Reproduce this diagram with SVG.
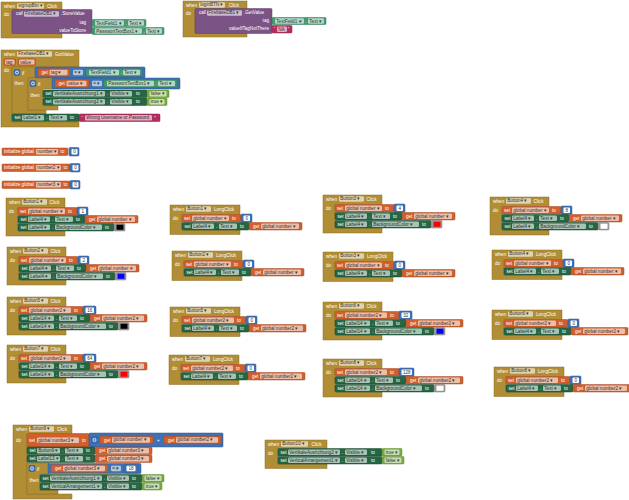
<svg xmlns="http://www.w3.org/2000/svg" width="629" height="500" viewBox="0 0 629 500">
<style>
text{font-family:"Liberation Sans",Arial,sans-serif;font-size:4.6px;fill:#fff}
.ft{fill:#333}
.ev{fill:#b18e35;stroke:#8a6d26;stroke-width:.5}
.or{fill:#d05f2d;stroke:#a54a22;stroke-width:.5;rx:1px}
.gr{fill:#266643;stroke:#1a4a2f;stroke-width:.5;rx:1px}
.cg{fill:#439970;stroke:#33784f;stroke-width:.5;rx:1px}
.bl{fill:#3f71b5;stroke:#2e5690;stroke-width:.5;rx:1px}
.lo{fill:#77ab41;stroke:#5d8a31;stroke-width:.5;rx:1px}
.tx{fill:#b32d5e;stroke:#8d2149;stroke-width:.5;rx:1px}
.pu{fill:#7c5385;stroke:#5f3f67;stroke-width:.5;rx:1px}
.f{fill:#fff;fill-opacity:.6;rx:1.2px}
.nf{fill:#fff;rx:1px}
.cb{fill:#9a9a9a;stroke:#777;stroke-width:.5;rx:1px}
.gear{fill:none;stroke:#fff;stroke-width:.8}
</style>
<rect width="629" height="500" fill="#fff"/>

<!-- signupBtn.Click -->
<g id="signupBtn-click" transform="translate(1,2)">
<path class="ev" d="M0,0H61V8H11V31H61V36H0Z"/>
<text x="3" y="5.6">when</text><rect class="f" x="16" y="1.2" width="27" height="5.6"/><text class="ft" x="17.3" y="5.4">signupBtn ▾</text><text x="46" y="5.6">Click</text>
<text x="3" y="14">do</text>
<rect class="pu" x="11" y="7.5" width="80" height="24"/>
<text x="15" y="13.2">call</text><rect class="f" x="23" y="9.2" width="35" height="5.6"/><text class="ft" x="24.3" y="13.4">FirebaseDB1 ▾</text><text x="60" y="13.2">.StoreValue</text>
<text x="85" y="21.6" text-anchor="end">tag</text>
<text x="85" y="29.6" text-anchor="end">valueToStore</text>
<g transform="translate(91,17.5)"><rect class="cg" width="54" height="7"/><rect class="f" x="3" y=".8" width="29" height="5.4"/><text class="ft" x="4.3" y="5">TextField1 ▾</text><text x="33.5" y="5.2">.</text><rect class="f" x="36" y=".8" width="16" height="5.4"/><text class="ft" x="37.3" y="5">Text ▾</text></g>
<g transform="translate(91,25.5)"><rect class="cg" width="72" height="7"/><rect class="f" x="3" y=".8" width="47" height="5.4"/><text class="ft" x="4.3" y="5">PasswortTextBox1 ▾</text><text x="51.5" y="5.2">.</text><rect class="f" x="54" y=".8" width="16" height="5.4"/><text class="ft" x="55.3" y="5">Text ▾</text></g>
</g>

<!-- loginBTN.Click -->
<g id="loginBTN-click" transform="translate(183,1)">
<path class="ev" d="M0,0H64V8H12V32H64V36H0Z"/>
<text x="3" y="5.6">when</text><rect class="f" x="16" y="1.2" width="26" height="5.6"/><text class="ft" x="17.3" y="5.4">loginBTN ▾</text><text x="46" y="5.6">Click</text>
<text x="3" y="14">do</text>
<rect class="pu" x="12" y="7.5" width="77" height="25"/>
<text x="16" y="13.2">call</text><rect class="f" x="24" y="9.2" width="35" height="5.6"/><text class="ft" x="25.3" y="13.4">FirebaseDB1 ▾</text><text x="61" y="13.2">.GetValue</text>
<text x="86" y="21" text-anchor="end">tag</text>
<text x="86" y="29.4" text-anchor="end">valueIfTagNotThere</text>
<g transform="translate(89,16.5)"><rect class="cg" width="54" height="7"/><rect class="f" x="3" y=".8" width="29" height="5.4"/><text class="ft" x="4.3" y="5">TextField1 ▾</text><text x="33.5" y="5.2">.</text><rect class="f" x="36" y=".8" width="16" height="5.4"/><text class="ft" x="37.3" y="5">Text ▾</text></g>
<g transform="translate(89,24.5)"><rect class="tx" width="20" height="7.5"/><text x="1.8" y="5.6">“</text><rect class="f" x="5" y="1" width="10" height="5.5"/><text class="ft" x="6.3" y="5.1">NA</text><text x="15.8" y="5.6">”</text></g>
</g>

<!-- FirebaseDB1.GotValue -->
<g id="firebase-gotvalue">
<path class="ev" d="M1,50H79V67H12V122H79V127H1Z"/>
<text x="4" y="55.6">when</text><rect class="f" x="17" y="51.2" width="35" height="5.6"/><text class="ft" x="18.3" y="55.4">FirebaseDB1 ▾</text><text x="55" y="55.6">GotValue</text>
<rect class="or" x="4" y="58.8" width="11.5" height="6.5"/><rect class="f" x="5" y="59.5" width="9.5" height="5.1"/><text class="ft" x="6" y="63.5">tag</text>
<rect class="or" x="18" y="58.8" width="17.5" height="6.5"/><rect class="f" x="19" y="59.5" width="15.5" height="5.1"/><text class="ft" x="20" y="63.5">value</text>
<text x="4" y="72">do</text>
<path class="ev" d="M12,67H36V78H28V110H46V114H12Z"/>
<rect class="bl" x="14" y="69.5" width="6" height="6"/><circle class="gear" cx="17" cy="72.5" r="1.5"/>
<text x="22" y="74.6">if</text>
<text x="14.5" y="85">then</text>
<rect class="bl" x="35" y="67" width="110" height="11"/>
<g transform="translate(38,68.8)"><rect class="or" width="32" height="7.5"/><text x="3.5" y="5.3">get</text><rect class="f" x="11.5" y="1" width="18" height="5.5"/><text class="ft" x="12.8" y="5.1">tag ▾</text></g>
<rect class="f" x="73" y="69.8" width="10" height="5.5"/><text class="ft" x="74.3" y="74">= ▾</text>
<g transform="translate(86,68.8)"><rect class="cg" width="56" height="7.5"/><rect class="f" x="3" y="1" width="30" height="5.5"/><text class="ft" x="4.3" y="5.1">TextField1 ▾</text><text x="34.5" y="5.3">.</text><rect class="f" x="37" y="1" width="17" height="5.5"/><text class="ft" x="38.3" y="5.1">Text ▾</text></g>
<path class="ev" d="M28,78H53V89H43V106H58V110H28Z"/>
<rect class="bl" x="30" y="80.5" width="6" height="6"/><circle class="gear" cx="33" cy="83.5" r="1.5"/>
<text x="38" y="85.6">if</text>
<text x="30.5" y="96.5">then</text>
<rect class="bl" x="52" y="78" width="128" height="11"/>
<g transform="translate(55,79.8)"><rect class="or" width="34" height="7.5"/><text x="3.5" y="5.3">get</text><rect class="f" x="11.5" y="1" width="20" height="5.5"/><text class="ft" x="12.8" y="5.1">value ▾</text></g>
<rect class="f" x="92" y="80.8" width="10" height="5.5"/><text class="ft" x="93.3" y="85">= ▾</text>
<g transform="translate(104,79.8)"><rect class="cg" width="73" height="7.5"/><rect class="f" x="3" y="1" width="47" height="5.5"/><text class="ft" x="4.3" y="5.1">PasswortTextBox1 ▾</text><text x="51.5" y="5.3">.</text><rect class="f" x="54" y="1" width="17" height="5.5"/><text class="ft" x="55.3" y="5.1">Text ▾</text></g>
<g transform="translate(43,90)"><rect class="gr" width="104" height="7.5"/><text x="2.5" y="5.3">set</text><rect class="f" x="10" y="1" width="52" height="5.5"/><text class="ft" x="11.3" y="5.1">VertikaleAusrichtung1 ▾</text><text x="64" y="5.3">.</text><rect class="f" x="67" y="1" width="22" height="5.5"/><text class="ft" x="68.3" y="5.1">Visible ▾</text><text x="93" y="5.3">to</text><rect class="lo" x="104" width="22" height="7.5"/><rect class="f" x="106.5" y="1" width="17" height="5.5"/><text class="ft" x="107.8" y="5.1">false ▾</text></g>
<g transform="translate(43,98)"><rect class="gr" width="104" height="7.5"/><text x="2.5" y="5.3">set</text><rect class="f" x="10" y="1" width="52" height="5.5"/><text class="ft" x="11.3" y="5.1">VertikaleAusrichtung2 ▾</text><text x="64" y="5.3">.</text><rect class="f" x="67" y="1" width="22" height="5.5"/><text class="ft" x="68.3" y="5.1">Visible ▾</text><text x="93" y="5.3">to</text><rect class="lo" x="104" width="20" height="7.5"/><rect class="f" x="106.5" y="1" width="15" height="5.5"/><text class="ft" x="107.8" y="5.1">true ▾</text></g>
<g transform="translate(12,114)"><rect class="gr" width="67" height="7.5"/><text x="2.5" y="5.3">set</text><rect class="f" x="10" y="1" width="22" height="5.5"/><text class="ft" x="11.3" y="5.1">Label1 ▾</text><text x="34" y="5.3">.</text><rect class="f" x="37" y="1" width="18" height="5.5"/><text class="ft" x="38.3" y="5.1">Text ▾</text><text x="58" y="5.3">to</text><rect class="tx" x="67" width="81" height="7.5"/><text x="69.3" y="5.6">“</text><rect class="f" x="73" y="1" width="67" height="5.5"/><text class="ft" x="74.3" y="5.1">Wrong Username or Password</text><text x="142.3" y="5.6">”</text></g>
</g>

<!-- globals -->
<g id="init-number" transform="translate(2,148)"><rect class="or" width="66" height="7.5"/><text x="2" y="5.3">initialize global</text><rect class="f" x="34" y="1" width="22" height="5.5"/><text class="ft" x="35.3" y="5.1">number ▾</text><text x="58.5" y="5.3">to</text><rect class="bl" x="67" y="-0.5" width="10" height="8.5"/><rect class="nf" x="69.5" y="1" width="6" height="5.5"/><text class="ft" x="72.5" y="5.1" text-anchor="middle">0</text></g>
<g id="init-number2" transform="translate(2,164)"><rect class="or" width="68" height="7.5"/><text x="2" y="5.3">initialize global</text><rect class="f" x="34" y="1" width="25" height="5.5"/><text class="ft" x="35.3" y="5.1">number2 ▾</text><text x="61.5" y="5.3">to</text><rect class="bl" x="68" y="-0.5" width="10" height="8.5"/><rect class="nf" x="70.5" y="1" width="6" height="5.5"/><text class="ft" x="73.5" y="5.1" text-anchor="middle">0</text></g>
<g id="init-number3" transform="translate(2,181)"><rect class="or" width="68" height="7.5"/><text x="2" y="5.3">initialize global</text><rect class="f" x="34" y="1" width="25" height="5.5"/><text class="ft" x="35.3" y="5.1">number3 ▾</text><text x="61.5" y="5.3">to</text><rect class="bl" x="68" y="-0.5" width="10" height="8.5"/><rect class="nf" x="70.5" y="1" width="6" height="5.5"/><text class="ft" x="73.5" y="5.1" text-anchor="middle">0</text></g>

<!-- Click blocks, number -->
<g id="button1-click" transform="translate(6,198)">
<path class="ev" d="M0,0H59V9.5H12V33H59V38H0Z"/>
<text x="3" y="5.6">when</text><rect class="f" x="16" y="1.2" width="25" height="5.6"/><text class="ft" x="17.3" y="5.4">Button1 ▾</text><text x="43.5" y="5.6">Click</text><text x="3" y="14.5">do</text>
<g transform="translate(12,9.5)"><rect class="or" width="59" height="7.5"/><text x="2" y="5.3">set</text><rect class="f" x="10" y="1" width="37" height="5.5"/><text class="ft" x="11.3" y="5.1">global number ▾</text><text x="50" y="5.3">to</text><rect class="bl" x="59" y="-0.5" width="11" height="8.5"/><rect class="nf" x="61.5" y="1" width="6.5" height="5.5"/><text class="ft" x="64.75" y="5.1" text-anchor="middle">1</text></g>
<g transform="translate(12,17.5)"><rect class="gr" width="67" height="7.5"/><text x="2.5" y="5.3">set</text><rect class="f" x="10" y="1" width="22" height="5.5"/><text class="ft" x="11.3" y="5.1">Label4 ▾</text><text x="34" y="5.3">.</text><rect class="f" x="37" y="1" width="18" height="5.5"/><text class="ft" x="38.3" y="5.1">Text ▾</text><text x="58" y="5.3">to</text><rect class="or" x="67" width="53" height="7.5"/><text x="71" y="5.3">get</text><rect class="f" x="79" y="1" width="38" height="5.5"/><text class="ft" x="80.3" y="5.1">global number ▾</text></g>
<g transform="translate(12,25.5)"><rect class="gr" width="96" height="7.5"/><text x="2.5" y="5.3">set</text><rect class="f" x="10" y="1" width="22" height="5.5"/><text class="ft" x="11.3" y="5.1">Label4 ▾</text><text x="34" y="5.3">.</text><rect class="f" x="37" y="1" width="47" height="5.5"/><text class="ft" x="38.3" y="5.1">BackgroundColor ▾</text><text x="87" y="5.3">to</text><rect class="cb" x="96" width="11" height="7.5"/><rect x="98.5" y="1.2" width="7" height="5.1" fill="#000"/></g>
</g>

<g id="button2-click" transform="translate(7,247)">
<path class="ev" d="M0,0H59V9.5H12V33H59V38H0Z"/>
<text x="3" y="5.6">when</text><rect class="f" x="16" y="1.2" width="25" height="5.6"/><text class="ft" x="17.3" y="5.4">Button2 ▾</text><text x="43.5" y="5.6">Click</text><text x="3" y="14.5">do</text>
<g transform="translate(12,9.5)"><rect class="or" width="59" height="7.5"/><text x="2" y="5.3">set</text><rect class="f" x="10" y="1" width="37" height="5.5"/><text class="ft" x="11.3" y="5.1">global number ▾</text><text x="50" y="5.3">to</text><rect class="bl" x="59" y="-0.5" width="11" height="8.5"/><rect class="nf" x="61.5" y="1" width="6.5" height="5.5"/><text class="ft" x="64.75" y="5.1" text-anchor="middle">2</text></g>
<g transform="translate(12,17.5)"><rect class="gr" width="67" height="7.5"/><text x="2.5" y="5.3">set</text><rect class="f" x="10" y="1" width="22" height="5.5"/><text class="ft" x="11.3" y="5.1">Label4 ▾</text><text x="34" y="5.3">.</text><rect class="f" x="37" y="1" width="18" height="5.5"/><text class="ft" x="38.3" y="5.1">Text ▾</text><text x="58" y="5.3">to</text><rect class="or" x="67" width="53" height="7.5"/><text x="71" y="5.3">get</text><rect class="f" x="79" y="1" width="38" height="5.5"/><text class="ft" x="80.3" y="5.1">global number ▾</text></g>
<g transform="translate(12,25.5)"><rect class="gr" width="96" height="7.5"/><text x="2.5" y="5.3">set</text><rect class="f" x="10" y="1" width="22" height="5.5"/><text class="ft" x="11.3" y="5.1">Label4 ▾</text><text x="34" y="5.3">.</text><rect class="f" x="37" y="1" width="47" height="5.5"/><text class="ft" x="38.3" y="5.1">BackgroundColor ▾</text><text x="87" y="5.3">to</text><rect class="cb" x="96" width="11" height="7.5"/><rect x="98.5" y="1.2" width="7" height="5.1" fill="#00f"/></g>
</g>

<g id="button3-click" transform="translate(323,195)">
<path class="ev" d="M0,0H59V9.5H12V33H59V38H0Z"/>
<text x="3" y="5.6">when</text><rect class="f" x="16" y="1.2" width="25" height="5.6"/><text class="ft" x="17.3" y="5.4">Button3 ▾</text><text x="43.5" y="5.6">Click</text><text x="3" y="14.5">do</text>
<g transform="translate(12,9.5)"><rect class="or" width="59" height="7.5"/><text x="2" y="5.3">set</text><rect class="f" x="10" y="1" width="37" height="5.5"/><text class="ft" x="11.3" y="5.1">global number ▾</text><text x="50" y="5.3">to</text><rect class="bl" x="59" y="-0.5" width="11" height="8.5"/><rect class="nf" x="61.5" y="1" width="6.5" height="5.5"/><text class="ft" x="64.75" y="5.1" text-anchor="middle">4</text></g>
<g transform="translate(12,17.5)"><rect class="gr" width="67" height="7.5"/><text x="2.5" y="5.3">set</text><rect class="f" x="10" y="1" width="22" height="5.5"/><text class="ft" x="11.3" y="5.1">Label4 ▾</text><text x="34" y="5.3">.</text><rect class="f" x="37" y="1" width="18" height="5.5"/><text class="ft" x="38.3" y="5.1">Text ▾</text><text x="58" y="5.3">to</text><rect class="or" x="67" width="53" height="7.5"/><text x="71" y="5.3">get</text><rect class="f" x="79" y="1" width="38" height="5.5"/><text class="ft" x="80.3" y="5.1">global number ▾</text></g>
<g transform="translate(12,25.5)"><rect class="gr" width="96" height="7.5"/><text x="2.5" y="5.3">set</text><rect class="f" x="10" y="1" width="22" height="5.5"/><text class="ft" x="11.3" y="5.1">Label4 ▾</text><text x="34" y="5.3">.</text><rect class="f" x="37" y="1" width="47" height="5.5"/><text class="ft" x="38.3" y="5.1">BackgroundColor ▾</text><text x="87" y="5.3">to</text><rect class="cb" x="96" width="11" height="7.5"/><rect x="98.5" y="1.2" width="7" height="5.1" fill="#f00"/></g>
</g>

<g id="button4-click" transform="translate(490,197)">
<path class="ev" d="M0,0H59V9.5H12V33H59V38H0Z"/>
<text x="3" y="5.6">when</text><rect class="f" x="16" y="1.2" width="25" height="5.6"/><text class="ft" x="17.3" y="5.4">Button4 ▾</text><text x="43.5" y="5.6">Click</text><text x="3" y="14.5">do</text>
<g transform="translate(12,9.5)"><rect class="or" width="59" height="7.5"/><text x="2" y="5.3">set</text><rect class="f" x="10" y="1" width="37" height="5.5"/><text class="ft" x="11.3" y="5.1">global number ▾</text><text x="50" y="5.3">to</text><rect class="bl" x="59" y="-0.5" width="11" height="8.5"/><rect class="nf" x="61.5" y="1" width="6.5" height="5.5"/><text class="ft" x="64.75" y="5.1" text-anchor="middle">8</text></g>
<g transform="translate(12,17.5)"><rect class="gr" width="67" height="7.5"/><text x="2.5" y="5.3">set</text><rect class="f" x="10" y="1" width="22" height="5.5"/><text class="ft" x="11.3" y="5.1">Label4 ▾</text><text x="34" y="5.3">.</text><rect class="f" x="37" y="1" width="18" height="5.5"/><text class="ft" x="38.3" y="5.1">Text ▾</text><text x="58" y="5.3">to</text><rect class="or" x="67" width="53" height="7.5"/><text x="71" y="5.3">get</text><rect class="f" x="79" y="1" width="38" height="5.5"/><text class="ft" x="80.3" y="5.1">global number ▾</text></g>
<g transform="translate(12,25.5)"><rect class="gr" width="96" height="7.5"/><text x="2.5" y="5.3">set</text><rect class="f" x="10" y="1" width="22" height="5.5"/><text class="ft" x="11.3" y="5.1">Label4 ▾</text><text x="34" y="5.3">.</text><rect class="f" x="37" y="1" width="47" height="5.5"/><text class="ft" x="38.3" y="5.1">BackgroundColor ▾</text><text x="87" y="5.3">to</text><rect class="cb" x="96" width="11" height="7.5"/><rect x="98.5" y="1.2" width="7" height="5.1" fill="#fff"/></g>
</g>

<!-- Click blocks, number2 -->
<g id="button5-click" transform="translate(7,297)">
<path class="ev" d="M0,0H59V9.5H12V33H59V38H0Z"/>
<text x="3" y="5.6">when</text><rect class="f" x="16" y="1.2" width="25" height="5.6"/><text class="ft" x="17.3" y="5.4">Button5 ▾</text><text x="43.5" y="5.6">Click</text><text x="3" y="14.5">do</text>
<g transform="translate(12,9.5)"><rect class="or" width="64" height="7.5"/><text x="2" y="5.3">set</text><rect class="f" x="10" y="1" width="42" height="5.5"/><text class="ft" x="11.3" y="5.1">global number2 ▾</text><text x="55" y="5.3">to</text><rect class="bl" x="64" y="-0.5" width="13" height="8.5"/><rect class="nf" x="66.5" y="1" width="8.5" height="5.5"/><text class="ft" x="70.75" y="5.1" text-anchor="middle">16</text></g>
<g transform="translate(12,17.5)"><rect class="gr" width="71" height="7.5"/><text x="2.5" y="5.3">set</text><rect class="f" x="10" y="1" width="25" height="5.5"/><text class="ft" x="11.3" y="5.1">Label14 ▾</text><text x="37" y="5.3">.</text><rect class="f" x="40" y="1" width="18" height="5.5"/><text class="ft" x="41.3" y="5.1">Text ▾</text><text x="61" y="5.3">to</text><rect class="or" x="71" width="57" height="7.5"/><text x="75" y="5.3">get</text><rect class="f" x="83" y="1" width="42" height="5.5"/><text class="ft" x="84.3" y="5.1">global number2 ▾</text></g>
<g transform="translate(12,25.5)"><rect class="gr" width="99" height="7.5"/><text x="2.5" y="5.3">set</text><rect class="f" x="10" y="1" width="25" height="5.5"/><text class="ft" x="11.3" y="5.1">Label14 ▾</text><text x="37" y="5.3">.</text><rect class="f" x="40" y="1" width="47" height="5.5"/><text class="ft" x="41.3" y="5.1">BackgroundColor ▾</text><text x="90" y="5.3">to</text><rect class="cb" x="99" width="11" height="7.5"/><rect x="101.5" y="1.2" width="7" height="5.1" fill="#000"/></g>
</g>

<g id="button7-click" transform="translate(7,345)">
<path class="ev" d="M0,0H59V9.5H12V33H59V38H0Z"/>
<text x="3" y="5.6">when</text><rect class="f" x="16" y="1.2" width="25" height="5.6"/><text class="ft" x="17.3" y="5.4">Button7 ▾</text><text x="43.5" y="5.6">Click</text><text x="3" y="14.5">do</text>
<g transform="translate(12,9.5)"><rect class="or" width="64" height="7.5"/><text x="2" y="5.3">set</text><rect class="f" x="10" y="1" width="42" height="5.5"/><text class="ft" x="11.3" y="5.1">global number2 ▾</text><text x="55" y="5.3">to</text><rect class="bl" x="64" y="-0.5" width="13" height="8.5"/><rect class="nf" x="66.5" y="1" width="8.5" height="5.5"/><text class="ft" x="70.75" y="5.1" text-anchor="middle">64</text></g>
<g transform="translate(12,17.5)"><rect class="gr" width="71" height="7.5"/><text x="2.5" y="5.3">set</text><rect class="f" x="10" y="1" width="25" height="5.5"/><text class="ft" x="11.3" y="5.1">Label14 ▾</text><text x="37" y="5.3">.</text><rect class="f" x="40" y="1" width="18" height="5.5"/><text class="ft" x="41.3" y="5.1">Text ▾</text><text x="61" y="5.3">to</text><rect class="or" x="71" width="57" height="7.5"/><text x="75" y="5.3">get</text><rect class="f" x="83" y="1" width="42" height="5.5"/><text class="ft" x="84.3" y="5.1">global number2 ▾</text></g>
<g transform="translate(12,25.5)"><rect class="gr" width="99" height="7.5"/><text x="2.5" y="5.3">set</text><rect class="f" x="10" y="1" width="25" height="5.5"/><text class="ft" x="11.3" y="5.1">Label14 ▾</text><text x="37" y="5.3">.</text><rect class="f" x="40" y="1" width="47" height="5.5"/><text class="ft" x="41.3" y="5.1">BackgroundColor ▾</text><text x="90" y="5.3">to</text><rect class="cb" x="99" width="11" height="7.5"/><rect x="101.5" y="1.2" width="7" height="5.1" fill="#f00"/></g>
</g>

<g id="button6-click" transform="translate(323,302)">
<path class="ev" d="M0,0H59V9.5H12V33H59V38H0Z"/>
<text x="3" y="5.6">when</text><rect class="f" x="16" y="1.2" width="25" height="5.6"/><text class="ft" x="17.3" y="5.4">Button6 ▾</text><text x="43.5" y="5.6">Click</text><text x="3" y="14.5">do</text>
<g transform="translate(12,9.5)"><rect class="or" width="64" height="7.5"/><text x="2" y="5.3">set</text><rect class="f" x="10" y="1" width="42" height="5.5"/><text class="ft" x="11.3" y="5.1">global number2 ▾</text><text x="55" y="5.3">to</text><rect class="bl" x="64" y="-0.5" width="13" height="8.5"/><rect class="nf" x="66.5" y="1" width="8.5" height="5.5"/><text class="ft" x="70.75" y="5.1" text-anchor="middle">32</text></g>
<g transform="translate(12,17.5)"><rect class="gr" width="71" height="7.5"/><text x="2.5" y="5.3">set</text><rect class="f" x="10" y="1" width="25" height="5.5"/><text class="ft" x="11.3" y="5.1">Label14 ▾</text><text x="37" y="5.3">.</text><rect class="f" x="40" y="1" width="18" height="5.5"/><text class="ft" x="41.3" y="5.1">Text ▾</text><text x="61" y="5.3">to</text><rect class="or" x="71" width="57" height="7.5"/><text x="75" y="5.3">get</text><rect class="f" x="83" y="1" width="42" height="5.5"/><text class="ft" x="84.3" y="5.1">global number2 ▾</text></g>
<g transform="translate(12,25.5)"><rect class="gr" width="99" height="7.5"/><text x="2.5" y="5.3">set</text><rect class="f" x="10" y="1" width="25" height="5.5"/><text class="ft" x="11.3" y="5.1">Label14 ▾</text><text x="37" y="5.3">.</text><rect class="f" x="40" y="1" width="47" height="5.5"/><text class="ft" x="41.3" y="5.1">BackgroundColor ▾</text><text x="90" y="5.3">to</text><rect class="cb" x="99" width="11" height="7.5"/><rect x="101.5" y="1.2" width="7" height="5.1" fill="#00f"/></g>
</g>

<g id="button8-click" transform="translate(323,359)">
<path class="ev" d="M0,0H59V9.5H12V33H59V38H0Z"/>
<text x="3" y="5.6">when</text><rect class="f" x="16" y="1.2" width="25" height="5.6"/><text class="ft" x="17.3" y="5.4">Button8 ▾</text><text x="43.5" y="5.6">Click</text><text x="3" y="14.5">do</text>
<g transform="translate(12,9.5)"><rect class="or" width="64" height="7.5"/><text x="2" y="5.3">set</text><rect class="f" x="10" y="1" width="42" height="5.5"/><text class="ft" x="11.3" y="5.1">global number2 ▾</text><text x="55" y="5.3">to</text><rect class="bl" x="64" y="-0.5" width="15" height="8.5"/><rect class="nf" x="66.5" y="1" width="10.5" height="5.5"/><text class="ft" x="71.75" y="5.1" text-anchor="middle">128</text></g>
<g transform="translate(12,17.5)"><rect class="gr" width="71" height="7.5"/><text x="2.5" y="5.3">set</text><rect class="f" x="10" y="1" width="25" height="5.5"/><text class="ft" x="11.3" y="5.1">Label14 ▾</text><text x="37" y="5.3">.</text><rect class="f" x="40" y="1" width="18" height="5.5"/><text class="ft" x="41.3" y="5.1">Text ▾</text><text x="61" y="5.3">to</text><rect class="or" x="71" width="57" height="7.5"/><text x="75" y="5.3">get</text><rect class="f" x="83" y="1" width="42" height="5.5"/><text class="ft" x="84.3" y="5.1">global number2 ▾</text></g>
<g transform="translate(12,25.5)"><rect class="gr" width="99" height="7.5"/><text x="2.5" y="5.3">set</text><rect class="f" x="10" y="1" width="25" height="5.5"/><text class="ft" x="11.3" y="5.1">Label14 ▾</text><text x="37" y="5.3">.</text><rect class="f" x="40" y="1" width="47" height="5.5"/><text class="ft" x="41.3" y="5.1">BackgroundColor ▾</text><text x="90" y="5.3">to</text><rect class="cb" x="99" width="11" height="7.5"/><rect x="101.5" y="1.2" width="7" height="5.1" fill="#fff"/></g>
</g>

<!-- LongClick blocks, number -->
<g id="button1-longclick" transform="translate(170,205)">
<path class="ev" d="M0,0H70V9.5H12V25H70V29.5H0Z"/>
<text x="3" y="5.6">when</text><rect class="f" x="16" y="1.2" width="25" height="5.6"/><text class="ft" x="17.3" y="5.4">Button1 ▾</text><text x="44" y="5.6">LongClick</text><text x="3" y="14.5">do</text>
<g transform="translate(12,9.5)"><rect class="or" width="59" height="7.5"/><text x="2" y="5.3">set</text><rect class="f" x="10" y="1" width="37" height="5.5"/><text class="ft" x="11.3" y="5.1">global number ▾</text><text x="50" y="5.3">to</text><rect class="bl" x="59" y="-0.5" width="11" height="8.5"/><rect class="nf" x="61.5" y="1" width="6.5" height="5.5"/><text class="ft" x="64.75" y="5.1" text-anchor="middle">0</text></g>
<g transform="translate(12,17.5)"><rect class="gr" width="67" height="7.5"/><text x="2.5" y="5.3">set</text><rect class="f" x="10" y="1" width="22" height="5.5"/><text class="ft" x="11.3" y="5.1">Label4 ▾</text><text x="34" y="5.3">.</text><rect class="f" x="37" y="1" width="18" height="5.5"/><text class="ft" x="38.3" y="5.1">Text ▾</text><text x="58" y="5.3">to</text><rect class="or" x="67" width="53" height="7.5"/><text x="71" y="5.3">get</text><rect class="f" x="79" y="1" width="38" height="5.5"/><text class="ft" x="80.3" y="5.1">global number ▾</text></g>
</g>

<g id="button2-longclick" transform="translate(172,251)">
<path class="ev" d="M0,0H70V9.5H12V25H70V29.5H0Z"/>
<text x="3" y="5.6">when</text><rect class="f" x="16" y="1.2" width="25" height="5.6"/><text class="ft" x="17.3" y="5.4">Button2 ▾</text><text x="44" y="5.6">LongClick</text><text x="3" y="14.5">do</text>
<g transform="translate(12,9.5)"><rect class="or" width="59" height="7.5"/><text x="2" y="5.3">set</text><rect class="f" x="10" y="1" width="37" height="5.5"/><text class="ft" x="11.3" y="5.1">global number ▾</text><text x="50" y="5.3">to</text><rect class="bl" x="59" y="-0.5" width="11" height="8.5"/><rect class="nf" x="61.5" y="1" width="6.5" height="5.5"/><text class="ft" x="64.75" y="5.1" text-anchor="middle">0</text></g>
<g transform="translate(12,17.5)"><rect class="gr" width="67" height="7.5"/><text x="2.5" y="5.3">set</text><rect class="f" x="10" y="1" width="22" height="5.5"/><text class="ft" x="11.3" y="5.1">Label4 ▾</text><text x="34" y="5.3">.</text><rect class="f" x="37" y="1" width="18" height="5.5"/><text class="ft" x="38.3" y="5.1">Text ▾</text><text x="58" y="5.3">to</text><rect class="or" x="67" width="53" height="7.5"/><text x="71" y="5.3">get</text><rect class="f" x="79" y="1" width="38" height="5.5"/><text class="ft" x="80.3" y="5.1">global number ▾</text></g>
</g>

<g id="button3-longclick" transform="translate(323,252)">
<path class="ev" d="M0,0H70V9.5H12V25H70V29.5H0Z"/>
<text x="3" y="5.6">when</text><rect class="f" x="16" y="1.2" width="25" height="5.6"/><text class="ft" x="17.3" y="5.4">Button3 ▾</text><text x="44" y="5.6">LongClick</text><text x="3" y="14.5">do</text>
<g transform="translate(12,9.5)"><rect class="or" width="59" height="7.5"/><text x="2" y="5.3">set</text><rect class="f" x="10" y="1" width="37" height="5.5"/><text class="ft" x="11.3" y="5.1">global number ▾</text><text x="50" y="5.3">to</text><rect class="bl" x="59" y="-0.5" width="11" height="8.5"/><rect class="nf" x="61.5" y="1" width="6.5" height="5.5"/><text class="ft" x="64.75" y="5.1" text-anchor="middle">0</text></g>
<g transform="translate(12,17.5)"><rect class="gr" width="67" height="7.5"/><text x="2.5" y="5.3">set</text><rect class="f" x="10" y="1" width="22" height="5.5"/><text class="ft" x="11.3" y="5.1">Label4 ▾</text><text x="34" y="5.3">.</text><rect class="f" x="37" y="1" width="18" height="5.5"/><text class="ft" x="38.3" y="5.1">Text ▾</text><text x="58" y="5.3">to</text><rect class="or" x="67" width="53" height="7.5"/><text x="71" y="5.3">get</text><rect class="f" x="79" y="1" width="38" height="5.5"/><text class="ft" x="80.3" y="5.1">global number ▾</text></g>
</g>

<g id="button4-longclick" transform="translate(492,250)">
<path class="ev" d="M0,0H70V9.5H12V25H70V29.5H0Z"/>
<text x="3" y="5.6">when</text><rect class="f" x="16" y="1.2" width="25" height="5.6"/><text class="ft" x="17.3" y="5.4">Button4 ▾</text><text x="44" y="5.6">LongClick</text><text x="3" y="14.5">do</text>
<g transform="translate(12,9.5)"><rect class="or" width="59" height="7.5"/><text x="2" y="5.3">set</text><rect class="f" x="10" y="1" width="37" height="5.5"/><text class="ft" x="11.3" y="5.1">global number ▾</text><text x="50" y="5.3">to</text><rect class="bl" x="59" y="-0.5" width="11" height="8.5"/><rect class="nf" x="61.5" y="1" width="6.5" height="5.5"/><text class="ft" x="64.75" y="5.1" text-anchor="middle">0</text></g>
<g transform="translate(12,17.5)"><rect class="gr" width="67" height="7.5"/><text x="2.5" y="5.3">set</text><rect class="f" x="10" y="1" width="22" height="5.5"/><text class="ft" x="11.3" y="5.1">Label4 ▾</text><text x="34" y="5.3">.</text><rect class="f" x="37" y="1" width="18" height="5.5"/><text class="ft" x="38.3" y="5.1">Text ▾</text><text x="58" y="5.3">to</text><rect class="or" x="67" width="53" height="7.5"/><text x="71" y="5.3">get</text><rect class="f" x="79" y="1" width="38" height="5.5"/><text class="ft" x="80.3" y="5.1">global number ▾</text></g>
</g>

<!-- LongClick blocks, number2 -->
<g id="button5-longclick" transform="translate(170,307)">
<path class="ev" d="M0,0H70V9.5H12V25H70V29.5H0Z"/>
<text x="3" y="5.6">when</text><rect class="f" x="16" y="1.2" width="25" height="5.6"/><text class="ft" x="17.3" y="5.4">Button5 ▾</text><text x="44" y="5.6">LongClick</text><text x="3" y="14.5">do</text>
<g transform="translate(12,9.5)"><rect class="or" width="64" height="7.5"/><text x="2" y="5.3">set</text><rect class="f" x="10" y="1" width="42" height="5.5"/><text class="ft" x="11.3" y="5.1">global number2 ▾</text><text x="55" y="5.3">to</text><rect class="bl" x="64" y="-0.5" width="11" height="8.5"/><rect class="nf" x="66.5" y="1" width="6.5" height="5.5"/><text class="ft" x="69.75" y="5.1" text-anchor="middle">0</text></g>
<g transform="translate(12,17.5)"><rect class="gr" width="67" height="7.5"/><text x="2.5" y="5.3">set</text><rect class="f" x="10" y="1" width="22" height="5.5"/><text class="ft" x="11.3" y="5.1">Label4 ▾</text><text x="34" y="5.3">.</text><rect class="f" x="37" y="1" width="18" height="5.5"/><text class="ft" x="38.3" y="5.1">Text ▾</text><text x="58" y="5.3">to</text><rect class="or" x="67" width="57" height="7.5"/><text x="71" y="5.3">get</text><rect class="f" x="79" y="1" width="42" height="5.5"/><text class="ft" x="80.3" y="5.1">global number2 ▾</text></g>
</g>

<g id="button7-longclick" transform="translate(169,355)">
<path class="ev" d="M0,0H70V9.5H12V25H70V29.5H0Z"/>
<text x="3" y="5.6">when</text><rect class="f" x="16" y="1.2" width="25" height="5.6"/><text class="ft" x="17.3" y="5.4">Button7 ▾</text><text x="44" y="5.6">LongClick</text><text x="3" y="14.5">do</text>
<g transform="translate(12,9.5)"><rect class="or" width="64" height="7.5"/><text x="2" y="5.3">set</text><rect class="f" x="10" y="1" width="42" height="5.5"/><text class="ft" x="11.3" y="5.1">global number2 ▾</text><text x="55" y="5.3">to</text><rect class="bl" x="64" y="-0.5" width="11" height="8.5"/><rect class="nf" x="66.5" y="1" width="6.5" height="5.5"/><text class="ft" x="69.75" y="5.1" text-anchor="middle">0</text></g>
<g transform="translate(12,17.5)"><rect class="gr" width="67" height="7.5"/><text x="2.5" y="5.3">set</text><rect class="f" x="10" y="1" width="22" height="5.5"/><text class="ft" x="11.3" y="5.1">Label4 ▾</text><text x="34" y="5.3">.</text><rect class="f" x="37" y="1" width="18" height="5.5"/><text class="ft" x="38.3" y="5.1">Text ▾</text><text x="58" y="5.3">to</text><rect class="or" x="67" width="57" height="7.5"/><text x="71" y="5.3">get</text><rect class="f" x="79" y="1" width="42" height="5.5"/><text class="ft" x="80.3" y="5.1">global number2 ▾</text></g>
</g>

<g id="button6-longclick" transform="translate(492,310)">
<path class="ev" d="M0,0H70V9.5H12V25H70V29.5H0Z"/>
<text x="3" y="5.6">when</text><rect class="f" x="16" y="1.2" width="25" height="5.6"/><text class="ft" x="17.3" y="5.4">Button6 ▾</text><text x="44" y="5.6">LongClick</text><text x="3" y="14.5">do</text>
<g transform="translate(12,9.5)"><rect class="or" width="64" height="7.5"/><text x="2" y="5.3">set</text><rect class="f" x="10" y="1" width="42" height="5.5"/><text class="ft" x="11.3" y="5.1">global number2 ▾</text><text x="55" y="5.3">to</text><rect class="bl" x="64" y="-0.5" width="11" height="8.5"/><rect class="nf" x="66.5" y="1" width="6.5" height="5.5"/><text class="ft" x="69.75" y="5.1" text-anchor="middle">0</text></g>
<g transform="translate(12,17.5)"><rect class="gr" width="67" height="7.5"/><text x="2.5" y="5.3">set</text><rect class="f" x="10" y="1" width="22" height="5.5"/><text class="ft" x="11.3" y="5.1">Label4 ▾</text><text x="34" y="5.3">.</text><rect class="f" x="37" y="1" width="18" height="5.5"/><text class="ft" x="38.3" y="5.1">Text ▾</text><text x="58" y="5.3">to</text><rect class="or" x="67" width="57" height="7.5"/><text x="71" y="5.3">get</text><rect class="f" x="79" y="1" width="42" height="5.5"/><text class="ft" x="80.3" y="5.1">global number2 ▾</text></g>
</g>

<g id="button8-longclick" transform="translate(494,367)">
<path class="ev" d="M0,0H70V9.5H12V25H70V29.5H0Z"/>
<text x="3" y="5.6">when</text><rect class="f" x="16" y="1.2" width="25" height="5.6"/><text class="ft" x="17.3" y="5.4">Button8 ▾</text><text x="44" y="5.6">LongClick</text><text x="3" y="14.5">do</text>
<g transform="translate(12,9.5)"><rect class="or" width="64" height="7.5"/><text x="2" y="5.3">set</text><rect class="f" x="10" y="1" width="42" height="5.5"/><text class="ft" x="11.3" y="5.1">global number2 ▾</text><text x="55" y="5.3">to</text><rect class="bl" x="64" y="-0.5" width="11" height="8.5"/><rect class="nf" x="66.5" y="1" width="6.5" height="5.5"/><text class="ft" x="69.75" y="5.1" text-anchor="middle">0</text></g>
<g transform="translate(12,17.5)"><rect class="gr" width="67" height="7.5"/><text x="2.5" y="5.3">set</text><rect class="f" x="10" y="1" width="22" height="5.5"/><text class="ft" x="11.3" y="5.1">Label4 ▾</text><text x="34" y="5.3">.</text><rect class="f" x="37" y="1" width="18" height="5.5"/><text class="ft" x="38.3" y="5.1">Text ▾</text><text x="58" y="5.3">to</text><rect class="or" x="67" width="57" height="7.5"/><text x="71" y="5.3">get</text><rect class="f" x="79" y="1" width="42" height="5.5"/><text class="ft" x="80.3" y="5.1">global number2 ▾</text></g>
</g>

<!-- Button9.Click -->
<g id="button9-click">
<path class="ev" d="M13,425H72V433.5H27V494H72V499H13Z"/>
<text x="16" y="430.6">when</text><rect class="f" x="29" y="426.2" width="25" height="5.6"/><text class="ft" x="30.3" y="430.4">Button9 ▾</text><text x="57" y="430.6">Click</text>
<text x="16" y="441.5">do</text>
<rect class="or" x="27" y="433.5" width="62" height="13.5"/><text x="29" y="441.7">set</text><rect class="f" x="37" y="437.5" width="42" height="5.5"/><text class="ft" x="38.3" y="441.6">global number3 ▾</text><text x="82" y="441.7">to</text>
<rect class="bl" x="89" y="433" width="134" height="14"/>
<rect class="bl" x="91.5" y="437" width="6" height="6"/><circle class="gear" cx="94.5" cy="440" r="1.5"/>
<g transform="translate(100,436.3)"><rect class="or" width="53" height="7.5"/><text x="4" y="5.3">get</text><rect class="f" x="12" y="1" width="38" height="5.5"/><text class="ft" x="13.3" y="5.1">global number ▾</text></g>
<text x="157" y="441.8">+</text>
<g transform="translate(164,436.3)"><rect class="or" width="57" height="7.5"/><text x="4" y="5.3">get</text><rect class="f" x="12" y="1" width="42" height="5.5"/><text class="ft" x="13.3" y="5.1">global number2 ▾</text></g>
<g transform="translate(27,447)"><rect class="gr" width="68" height="7.5"/><text x="2.5" y="5.3">set</text><rect class="f" x="10" y="1" width="23" height="5.5"/><text class="ft" x="11.3" y="5.1">Button9 ▾</text><text x="35" y="5.3">.</text><rect class="f" x="38" y="1" width="18" height="5.5"/><text class="ft" x="39.3" y="5.1">Text ▾</text><text x="59" y="5.3">to</text><rect class="or" x="68" width="57" height="7.5"/><text x="72" y="5.3">get</text><rect class="f" x="80" y="1" width="42" height="5.5"/><text class="ft" x="81.3" y="5.1">global number3 ▾</text></g>
<g transform="translate(27,455)"><rect class="gr" width="68" height="7.5"/><text x="2.5" y="5.3">set</text><rect class="f" x="10" y="1" width="23" height="5.5"/><text class="ft" x="11.3" y="5.1">Label13 ▾</text><text x="35" y="5.3">.</text><rect class="f" x="38" y="1" width="18" height="5.5"/><text class="ft" x="39.3" y="5.1">Text ▾</text><text x="59" y="5.3">to</text><rect class="or" x="68" width="57" height="7.5"/><text x="72" y="5.3">get</text><rect class="f" x="80" y="1" width="42" height="5.5"/><text class="ft" x="81.3" y="5.1">global number3 ▾</text></g>
<path class="ev" d="M27,463H49V474H40V490H58V494H27Z"/>
<rect class="bl" x="29" y="465.5" width="6" height="6"/><circle class="gear" cx="32" cy="468.5" r="1.5"/>
<text x="37" y="470.6">if</text>
<text x="29.5" y="481.5">then</text>
<rect class="bl" x="48" y="463.5" width="93" height="10"/>
<g transform="translate(51,464.8)"><rect class="or" width="57" height="7.5"/><text x="4" y="5.3">get</text><rect class="f" x="12" y="1" width="42" height="5.5"/><text class="ft" x="13.3" y="5.1">global number3 ▾</text></g>
<rect class="f" x="111" y="465.8" width="10" height="5.5"/><text class="ft" x="112.3" y="470">= ▾</text>
<rect class="bl" x="124" y="464.3" width="14" height="8.5"/><rect class="nf" x="126.5" y="465.8" width="9" height="5.5"/><text class="ft" x="131" y="469.9" text-anchor="middle">18</text>
<g transform="translate(40,474.5)"><rect class="gr" width="102" height="7.5"/><text x="2.5" y="5.3">set</text><rect class="f" x="10" y="1" width="52" height="5.5"/><text class="ft" x="11.3" y="5.1">VertikaleAusrichtung1 ▾</text><text x="64" y="5.3">.</text><rect class="f" x="67" y="1" width="22" height="5.5"/><text class="ft" x="68.3" y="5.1">Visible ▾</text><text x="92" y="5.3">to</text><rect class="lo" x="102" width="22" height="7.5"/><rect class="f" x="104.5" y="1" width="17" height="5.5"/><text class="ft" x="105.8" y="5.1">false ▾</text></g>
<g transform="translate(40,482.5)"><rect class="gr" width="102" height="7.5"/><text x="2.5" y="5.3">set</text><rect class="f" x="10" y="1" width="52" height="5.5"/><text class="ft" x="11.3" y="5.1">VerticalArrangement1 ▾</text><text x="64" y="5.3">.</text><rect class="f" x="67" y="1" width="22" height="5.5"/><text class="ft" x="68.3" y="5.1">Visible ▾</text><text x="92" y="5.3">to</text><rect class="lo" x="102" width="20" height="7.5"/><rect class="f" x="104.5" y="1" width="15" height="5.5"/><text class="ft" x="105.8" y="5.1">true ▾</text></g>
</g>

<!-- Button10.Click -->
<g id="button10-click">
<path class="ev" d="M265,440H327V448.5H278V464H327V468.5H265Z"/>
<text x="268" y="445.6">when</text><rect class="f" x="281" y="441.2" width="27" height="5.6"/><text class="ft" x="282.3" y="445.4">Button10 ▾</text><text x="311.5" y="445.6">Click</text>
<text x="268" y="454.5">do</text>
<g transform="translate(278,448.5)"><rect class="gr" width="104" height="7.5"/><text x="2.5" y="5.3">set</text><rect class="f" x="10" y="1" width="52" height="5.5"/><text class="ft" x="11.3" y="5.1">VertikaleAusrichtung2 ▾</text><text x="64" y="5.3">.</text><rect class="f" x="67" y="1" width="22" height="5.5"/><text class="ft" x="68.3" y="5.1">Visible ▾</text><text x="93" y="5.3">to</text><rect class="lo" x="104" width="20" height="7.5"/><rect class="f" x="106.5" y="1" width="15" height="5.5"/><text class="ft" x="107.8" y="5.1">true ▾</text></g>
<g transform="translate(278,456.5)"><rect class="gr" width="104" height="7.5"/><text x="2.5" y="5.3">set</text><rect class="f" x="10" y="1" width="52" height="5.5"/><text class="ft" x="11.3" y="5.1">VerticalArrangement1 ▾</text><text x="64" y="5.3">.</text><rect class="f" x="67" y="1" width="22" height="5.5"/><text class="ft" x="68.3" y="5.1">Visible ▾</text><text x="93" y="5.3">to</text><rect class="lo" x="104" width="22" height="7.5"/><rect class="f" x="106.5" y="1" width="17" height="5.5"/><text class="ft" x="107.8" y="5.1">false ▾</text></g>
</g>

<g id="connectors"/>
</svg>
